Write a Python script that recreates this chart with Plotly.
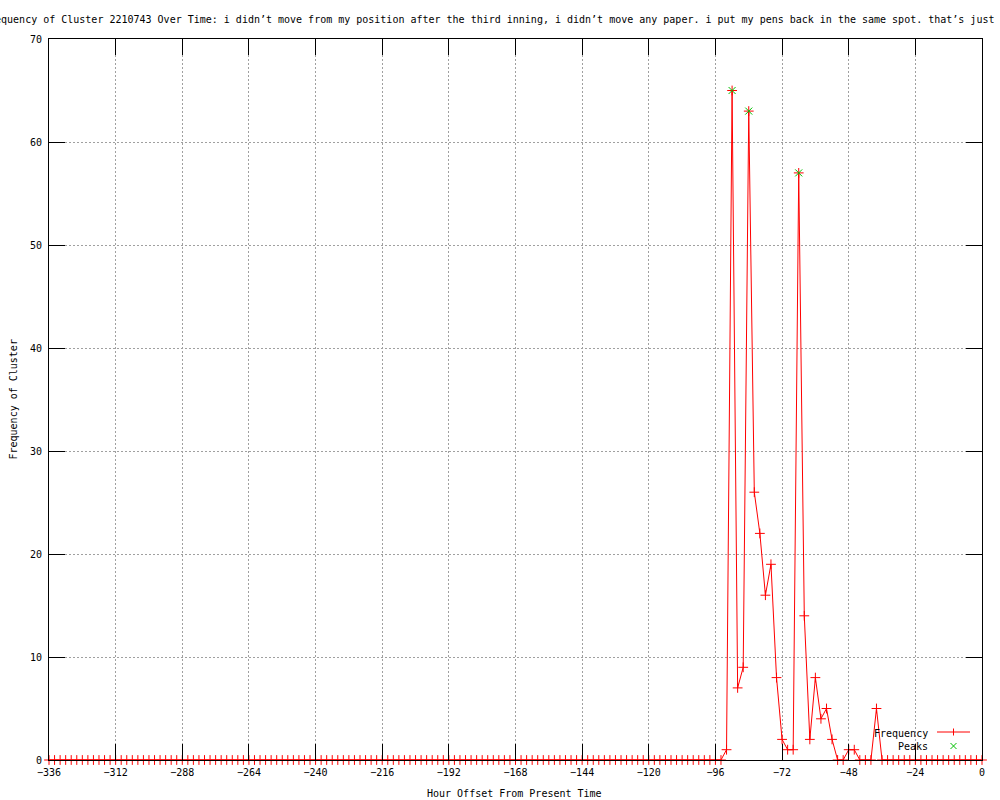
import plotly.graph_objects as go

# ---- data ----
hours = list(range(-336, 1, 2))
nonzero = {
    -92: 1, -90: 65, -88: 7, -86: 9, -84: 63, -82: 26, -80: 22, -78: 16,
    -76: 19, -74: 8, -72: 2, -70: 1, -68: 1, -66: 57, -64: 14, -62: 2,
    -60: 8, -58: 4, -56: 5, -54: 2, -52: 0, -50: 0, -48: 1, -46: 1,
    -44: 0, -42: 0, -40: 0, -38: 5, -36: 0,
}
freq = [nonzero.get(h, 0) for h in hours]
peak_hours = [-90, -84, -66]
peak_vals = [65, 63, 57]

x_ticks = list(range(-336, 1, 24))
y_ticks = list(range(0, 71, 10))

title_text = ("Frequency of Cluster 2210743 Over Time: i didn’t move from my position after the third "
              "inning, i didn’t move any paper. i put my pens back in the same spot. that’s just u")

FONT = "DejaVu Sans Mono"
RED = "#ff0000"
GREEN = "#00c000"

# plot area in pixels
L, R, T, B = 49, 982, 39, 760


def px(x):
    return (x - L) / (R - L)


def py(y):
    return (B - y) / (B - T)


fig = go.Figure()
fig.add_trace(go.Scatter(
    x=hours, y=freq, mode="lines+markers", name="Frequency",
    line=dict(color=RED, width=1),
    marker=dict(symbol="cross-thin", size=7, line=dict(color=RED, width=1), color=RED),
    cliponaxis=False, showlegend=False,
))
fig.add_trace(go.Scatter(
    x=peak_hours, y=peak_vals, mode="markers", name="Peaks",
    marker=dict(symbol="x-thin", size=7, line=dict(color=GREEN, width=1), color=GREEN),
    cliponaxis=False, showlegend=False,
))

axis_common = dict(
    showline=True, linecolor="black", linewidth=1, mirror="ticks",
    ticks="inside", ticklen=16, tickwidth=1, tickcolor="black",
    showgrid=True, gridcolor="#a0a0a0", gridwidth=1, griddash="2px,2px",
    zeroline=False, tickfont=dict(family=FONT, size=10, color="black"),
)

fig.update_xaxes(range=[-336, 0], tickvals=x_ticks, ticktext=[str(v).replace("-", "−") for v in x_ticks],
                 ticklabelstandoff=3, **axis_common)
fig.update_yaxes(range=[0, 70], tickvals=y_ticks, ticklabelstandoff=4, **axis_common)

annotations = [
    dict(text=title_text, x=px(-19), y=py(19), xref="paper", yref="paper",
         xanchor="left", yanchor="middle", showarrow=False,
         font=dict(family=FONT, size=10, color="black")),
    dict(text="Frequency of Cluster", x=px(13), y=0.5, xref="paper", yref="paper",
         textangle=-90, xanchor="center", yanchor="middle", showarrow=False,
         font=dict(family=FONT, size=10, color="black")),
    dict(text="Hour Offset From Present Time", x=px(514), y=py(793), xref="paper", yref="paper",
         xanchor="center", yanchor="middle", showarrow=False,
         font=dict(family=FONT, size=10, color="black")),
    dict(text="Frequency", x=px(930), y=py(733), xref="paper", yref="paper",
         xanchor="right", yanchor="middle", showarrow=False,
         font=dict(family=FONT, size=10, color="black")),
    dict(text="Peaks", x=px(930), y=py(746), xref="paper", yref="paper",
         xanchor="right", yanchor="middle", showarrow=False,
         font=dict(family=FONT, size=10, color="black")),
]

shapes = [
    # Frequency legend sample
    dict(type="line", xref="paper", yref="paper", x0=px(937), x1=px(970), y0=py(732), y1=py(732),
         line=dict(color=RED, width=1)),
    dict(type="line", xref="paper", yref="paper", x0=px(953.5), x1=px(953.5), y0=py(728.5), y1=py(735.5),
         line=dict(color=RED, width=1)),
    # Peaks legend sample (x)
    dict(type="line", xref="paper", yref="paper", x0=px(950.5), x1=px(956.5), y0=py(743), y1=py(749),
         line=dict(color=GREEN, width=1)),
    dict(type="line", xref="paper", yref="paper", x0=px(950.5), x1=px(956.5), y0=py(749), y1=py(743),
         line=dict(color=GREEN, width=1)),
]

fig.update_layout(
    width=1000, height=800, autosize=False,
    margin=dict(l=L, r=1000 - R, t=T, b=800 - B, pad=0),
    paper_bgcolor="white", plot_bgcolor="white",
    font=dict(family=FONT, size=10, color="black"),
    annotations=annotations, shapes=shapes, showlegend=False,
)

fig.write_html(
    "out.html",
    config={"displayModeBar": False},
    post_script="document.body.style.margin='0';document.body.style.padding='0';",
)
